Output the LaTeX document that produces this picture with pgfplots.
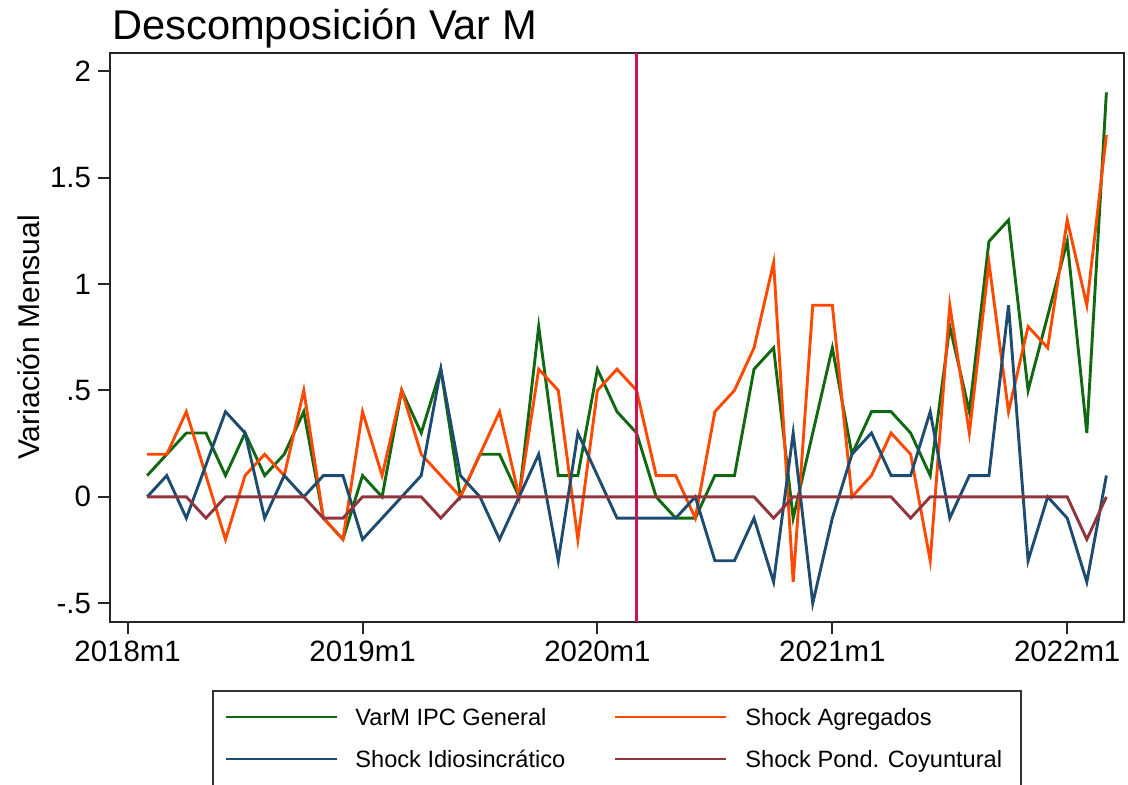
\documentclass[border=0pt]{standalone}
\usepackage{fontspec}
\setmainfont{Liberation Sans}
\usepackage{pgfplots}
\usepackage{pgfplotstable}
\pgfplotsset{compat=1.18}
\definecolor{cgreen}{RGB}{16,105,16}
\definecolor{corange}{RGB}{255,72,0}
\definecolor{cblue}{RGB}{30,76,112}
\definecolor{cbrown}{RGB}{144,53,59}
\definecolor{cline}{RGB}{204,20,80}
\pgfplotstableread{
k g o b p
1 0.1 0.2 0.0 0
2 0.2 0.2 0.1 0
3 0.3 0.4 -0.1 0
4 0.3 0.1 0.15 -0.1
5 0.1 -0.2 0.4 0
6 0.3 0.1 0.3 0
7 0.1 0.2 -0.1 0
8 0.2 0.1 0.1 0
9 0.4 0.5 0.0 0
10 -0.1 -0.1 0.1 -0.1
11 -0.2 -0.2 0.1 -0.1
12 0.1 0.4 -0.2 0
13 0.0 0.1 -0.1 0
14 0.5 0.5 0.0 0
15 0.3 0.2 0.1 0
16 0.6 0.1 0.6 -0.1
17 0.0 0.0 0.1 0
18 0.2 0.2 0.0 0
19 0.2 0.4 -0.2 0
20 0.0 0.0 0.0 0
21 0.8 0.6 0.2 0
22 0.1 0.5 -0.3 0
23 0.1 -0.2 0.3 0
24 0.6 0.5 0.1 0
25 0.4 0.6 -0.1 0
26 0.3 0.5 -0.1 0
27 0.0 0.1 -0.1 0
28 -0.1 0.1 -0.1 0
29 -0.1 -0.1 0.0 0
30 0.1 0.4 -0.3 0
31 0.1 0.5 -0.3 0
32 0.6 0.7 -0.1 0
33 0.7 1.1 -0.4 -0.1
34 -0.1 -0.4 0.3 0
35 0.3 0.9 -0.5 0
36 0.7 0.9 -0.1 0
37 0.2 0.0 0.2 0
38 0.4 0.1 0.3 0
39 0.4 0.3 0.1 0
40 0.3 0.2 0.1 -0.1
41 0.1 -0.3 0.4 0
42 0.8 0.9 -0.1 0
43 0.4 0.3 0.1 0
44 1.2 1.1 0.1 0
45 1.3 0.4 0.9 0
46 0.5 0.8 -0.3 0
47 0.85 0.7 0.0 0
48 1.2 1.3 -0.1 0
49 0.3 0.9 -0.4 -0.2
50 1.9 1.7 0.1 0
}\datatable
\begin{document}
\begin{tikzpicture}
\begin{axis}[
  at={(55pt,81pt)}, anchor=south west,
  scale only axis, width=507pt, height=284.5pt,
  xmin=-0.9, xmax=50.9, ymin=-0.588, ymax=2.085,
  axis line style={line width=1pt, black!85},
  tick align=outside, tick pos=left,
  major tick length=6pt,
  every tick/.style={line width=1pt, black!85},
  xtick={0,12,24,36,48},
  xticklabels={2018m1,2019m1,2020m1,2021m1,2022m1},
  ytick={-0.5,0,0.5,1,1.5,2},
  yticklabels={-.5,0,.5,1,1.5,2},
  /pgf/number format/assume math mode=true,
  ticklabel style={font=\fontsize{14.7}{17}\selectfont},
  ylabel={Variación Mensual},
  ylabel style={font=\fontsize{15}{18}\selectfont, at={(axis description cs:-0.0799,0.5)}, anchor=center},
  clip=true,
]
\addplot[cgreen, line width=1.45pt] table[x=k,y=g]{\datatable};
\addplot[corange, line width=1.45pt] table[x=k,y=o]{\datatable};
\addplot[cblue, line width=1.45pt] table[x=k,y=b]{\datatable};
\addplot[cbrown, line width=1.45pt] table[x=k,y=p]{\datatable};
\draw[cline, line width=1.2pt] (axis cs:26,-0.588) -- (axis cs:26,2.085);
\end{axis}
\node[anchor=base west, inner sep=0pt, font=\fontsize{20.8}{25}\selectfont] at (56pt,372.4pt) {Descomposición Var M};
% legend
\draw[black!80, line width=0.9pt, fill=white] (106.5pt,-10pt) rectangle (510.5pt,46.5pt);
\draw[cgreen, line width=1.45pt] (113pt,33.5pt) -- (168.5pt,33.5pt);
\draw[cblue, line width=1.45pt] (113pt,12.5pt) -- (168.5pt,12.5pt);
\draw[corange, line width=1.45pt] (307.5pt,33.5pt) -- (363pt,33.5pt);
\draw[cbrown, line width=1.45pt] (307.5pt,12.5pt) -- (363pt,12.5pt);
\begin{scope}[every node/.style={anchor=base west, inner sep=0pt, font=\fontsize{11.8}{14}\selectfont}]
\node at (177.5pt,29.3pt) {VarM IPC General};
\node at (177.5pt,8.3pt) {Shock Idiosincrático};
\node at (372.5pt,29.3pt) {Shock Agregados};
\node at (372.5pt,8.3pt) {Shock Pond. Coyuntural};
\end{scope}
\pgfresetboundingbox
\useasboundingbox (0,0) rectangle (564pt,392pt);
\end{tikzpicture}
\end{document}
